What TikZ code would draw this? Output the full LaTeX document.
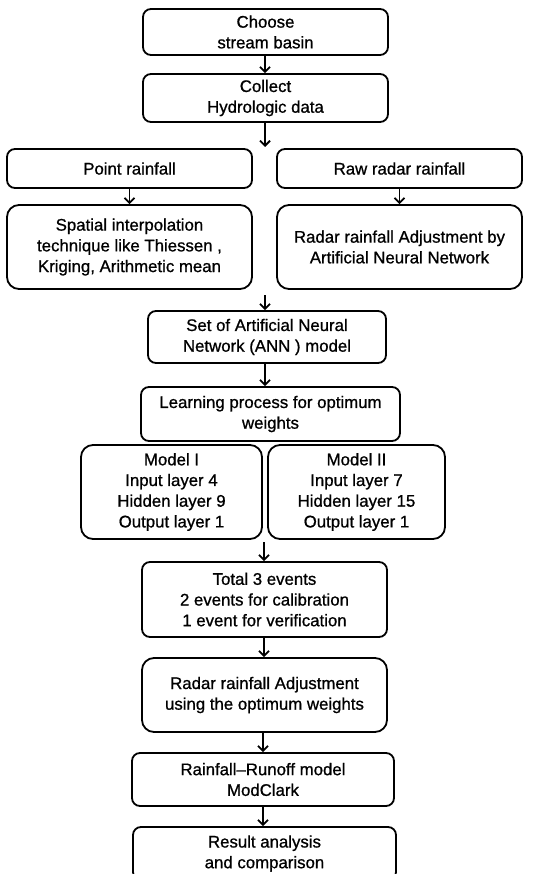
\documentclass[tikz,border=0pt]{standalone}
\usepackage{fontspec}
\setmainfont{Liberation Sans}[FakeBold=0.9]
\usetikzlibrary{arrows.meta}
\begin{document}
\begin{tikzpicture}[x=1pt,y=-1pt,
  box/.style={draw=black,line width=1.8pt,rounded corners=8pt,align=center,inner sep=0pt,
    font=\fontsize{16.8}{20.7}\selectfont},
  arr/.style={line width=1.7pt,-{Straight Barb[length=5pt,width=10pt,line width=1.8pt]}}]
\useasboundingbox (0,0) rectangle (533,874);
\node[box,minimum width=245pt,minimum height=46pt] (b1) at (265.5,32) {Choose\\stream basin};
\node[box,minimum width=245pt,minimum height=48pt] (b2) at (265.5,98) {Collect\\Hydrologic data};
\node[box,minimum width=245pt,minimum height=39pt] (b3) at (129.5,168.5) {Point rainfall};
\node[box,minimum width=245pt,minimum height=39pt] (b4) at (399.5,168.5) {Raw radar rainfall};
\node[box,rounded corners=12pt,minimum width=245pt,minimum height=84pt] (b5) at (129.5,247) {Spatial interpolation\\technique like Thiessen ,\\Kriging, Arithmetic mean};
\node[box,rounded corners=12pt,minimum width=245pt,minimum height=84pt] (b6) at (399.5,247) {Radar rainfall Adjustment by\\Artificial Neural Network};
\node[box,minimum width=238pt,minimum height=52pt] (b7) at (267,337) {Set of Artificial Neural\\Network (ANN ) model};
\node[box,minimum width=259pt,minimum height=54pt] (b8) at (270.5,414) {Learning process for optimum\\weights};
\node[box,rounded corners=12pt,minimum width=181pt,minimum height=94pt] (b9) at (171.5,492) {Model I\\Input layer 4\\Hidden layer 9\\Output layer 1};
\node[box,rounded corners=12pt,minimum width=177pt,minimum height=94pt] (b10) at (356.5,492) {Model II\\Input layer 7\\Hidden layer 15\\Output layer 1};
\node[box,minimum width=245pt,minimum height=75pt] (b11) at (264.5,599.5) {Total 3 events\\2 events for calibration\\1 event for verification};
\node[box,rounded corners=12pt,minimum width=245pt,minimum height=74pt] (b12) at (264.5,695) {Radar rainfall Adjustment\\using the optimum weights};
\node[box,minimum width=262pt,minimum height=53pt] (b13) at (263,779.5) {Rainfall--Runoff model\\ModClark};
\node[box,minimum width=263pt,minimum height=53pt] (b14) at (264.5,853.5) {Result analysis\\and comparison};
\coordinate (c1) at (265,147);
\coordinate (c2) at (265,295);
\coordinate (c3) at (264,542);
\draw[arr] (b1.south -| 265,0) -- (b2.north -| 265,0);
\draw[arr] (b2.south -| c1) -- (c1);
\draw[arr] (b3.south) -- (b5.north);
\draw[arr] (b4.south) -- (b6.north);
\draw[arr] (c2) -- (c2 |- b7.north);
\draw[arr] (b7.south -| c2) -- (b8.north -| c2);
\draw[arr] (c3) -- (c3 |- b11.north);
\draw[arr] (b11.south -| c3) -- (b12.north -| c3);
\draw[arr] (b12.south -| 263,0) -- (b13.north -| 263,0);
\draw[arr] (b13.south -| 263,0) -- (b14.north -| 263,0);
\end{tikzpicture}
\end{document}
